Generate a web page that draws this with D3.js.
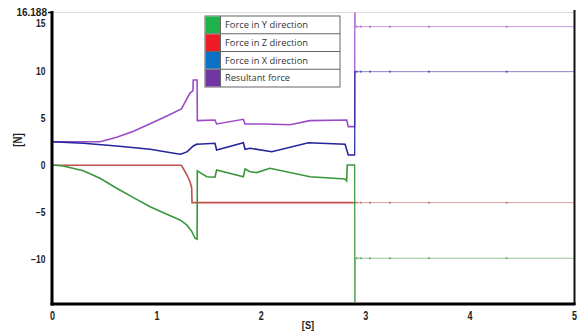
<!DOCTYPE html>
<html><head><meta charset="utf-8">
<script src="https://cdn.jsdelivr.net/npm/d3@7"></script>
<style>body{margin:0;background:#fff}svg{display:block}</style>
</head><body>
<svg id="chart" width="577" height="333"></svg>
<script>
// ---------- data ----------
const xTicks = [0, 1, 2, 3, 4, 5];
const yTicks = [-10, -5, 0, 5, 10, 15];
const yMaxLabel = 16.188;
const yMinValue = -14.7;
const seriesNames = ["Force in Y direction", "Force in Z direction", "Force in X direction", "Resultant force"];
const legendColors = ["#1db34a", "#ee1c24", "#0b72c6", "#7235a5"];
const lineColors = ["#3a963a", "#c0504d", "#25259c", "#9a4cc8"];

const timeY  = [0, 0.108, 0.3, 0.46, 0.62, 0.78, 0.94, 1.1, 1.226, 1.29, 1.34, 1.37, 1.39,
                1.392, 1.482, 1.561, 1.577, 1.833, 1.849, 1.897, 1.961, 2.088, 2.471, 2.806, 2.822, 2.828, 2.901, 2.903, 2.907, 5];
const forceY = [0.03, -0.07, -0.57, -1.38, -2.44, -3.43, -4.39, -5.19, -5.79, -6.32, -7.03, -7.73, -7.84,
                -0.6, -1.21, -1.27, -0.5, -1.21, -0.39, -0.68, -0.78, -0.32, -1.21, -1.45, -1.66, 0.03, 0.03, -14.5, -9.85, -9.85];

const timeZ  = [0, 1.24, 1.293, 1.322, 1.338, 1.341, 5];
const forceZ = [0, 0, -1.03, -1.74, -2.4, -3.96, -3.96];

const timeX  = [0, 0.3, 0.62, 0.94, 1.226, 1.258, 1.296, 1.353, 1.39,
                1.392, 1.561, 1.577, 1.833, 1.849, 1.897, 2.105, 2.456, 2.807, 2.838, 2.901, 2.904, 5];
const forceX = [2.5, 2.33, 2.05, 1.7, 1.17, 1.27, 1.44, 2.05, 2.26,
                2.23, 2.33, 1.62, 2.39, 1.7, 1.8, 1.44, 2.39, 2.23, 1.09, 1.09, 9.92, 9.92];

const timeR  = [0, 0.46, 0.62, 0.78, 0.94, 1.1, 1.24, 1.32, 1.35, 1.353, 1.39,
                1.392, 1.561, 1.577, 1.833, 1.849, 2.04, 2.28, 2.47, 2.823, 2.838, 2.901, 2.903, 2.907, 5];
const forceR = [2.5, 2.5, 2.97, 3.6, 4.4, 5.22, 5.97, 7.63, 7.9, 9.04, 9.04,
                4.73, 4.8, 4.38, 4.87, 4.38, 4.38, 4.3, 4.73, 4.8, 4.09, 4.09, 16.188, 14.69, 14.69];

const sampleTimes = [2.918, 2.957, 3.046, 3.238, 3.611, 4.355];
const tailValues = [-9.85, -3.96, 9.92, 14.69];

// ---------- drawing ----------
const svg = d3.select("#chart");
const x = d3.scaleLinear().domain([0, 5]).range([52, 574]);
const y = d3.scaleLinear().domain([yMinValue, yMaxLabel]).range([304, 12.5]);

const series = [
  {t: timeY, v: forceY},
  {t: timeZ, v: forceZ},
  {t: timeX, v: forceX},
  {t: timeR, v: forceR}
];

// top frame line
svg.append("line").attr("x1", x(0)).attr("x2", x(5)).attr("y1", y(yMaxLabel)).attr("y2", y(yMaxLabel))
  .attr("stroke", "#dcdcdc").attr("stroke-width", 1);

const defs = svg.append("defs");
const split = x(2.905);
defs.append("clipPath").attr("id", "clipL").append("rect")
  .attr("x", x(0)).attr("y", 0).attr("width", split - x(0)).attr("height", 333);
defs.append("clipPath").attr("id", "clipR").append("rect")
  .attr("x", split).attr("y", 0).attr("width", x(5) - split).attr("height", 333);

const line = d3.line().x(d => x(d[0])).y(d => y(d[1]));
const order = [3, 2, 1, 0];
order.forEach(i => {
  const pts = series[i].t.map((t, k) => [t, series[i].v[k]]);
  svg.append("path").datum(pts).attr("d", line)
    .attr("fill", "none").attr("stroke", lineColors[i]).attr("stroke-width", 1.6)
    .attr("stroke-linejoin", "miter").attr("clip-path", "url(#clipL)");
  svg.append("path").datum(pts).attr("d", line)
    .attr("fill", "none").attr("stroke", lineColors[i]).attr("stroke-width", 1)
    .attr("stroke-opacity", 0.55).attr("clip-path", "url(#clipR)");
  svg.append("g").selectAll("rect").data(sampleTimes).join("rect")
    .attr("x", d => x(d) - 1).attr("y", y(tailValues[i]) - 1)
    .attr("width", 2).attr("height", 2).attr("fill", lineColors[i]).attr("fill-opacity", 0.6);
});

// right frame
svg.append("line").attr("x1", 574.5).attr("x2", 574.5).attr("y1", 10).attr("y2", 305)
  .attr("stroke", "#111").attr("stroke-width", 2);

// left axis
const yAxis = d3.axisLeft(y).tickValues(yTicks).tickSize(0).tickPadding(8).tickFormat(d3.format("d"));
const gy = svg.append("g").attr("transform", "translate(52,0)").call(yAxis);
gy.select(".domain").remove();
gy.selectAll("text")
  .attr("font-family", "'Liberation Sans', Arial, sans-serif").attr("font-weight", "bold")
  .attr("font-size", 10).attr("fill", "#222")
  .attr("transform", "scale(0.85,1)").attr("x", -6.5 / 0.85);

// top label
svg.append("text").attr("x", 47).attr("y", y(yMaxLabel)).attr("dy", "0.35em")
  .attr("text-anchor", "end").attr("font-family", "'Liberation Sans', Arial, sans-serif")
  .attr("font-weight", "bold").attr("font-size", 10).attr("fill", "#222").text(yMaxLabel);
svg.append("line").attr("x1", 48).attr("x2", 52).attr("y1", y(yMaxLabel)).attr("y2", y(yMaxLabel))
  .attr("stroke", "#111").attr("stroke-width", 1.5);

// bottom axis
const xAxis = d3.axisBottom(x).tickValues(xTicks).tickSize(0).tickPadding(7).tickFormat(d3.format("d"));
const gx = svg.append("g").attr("transform", "translate(0,304)").call(xAxis);
gx.select(".domain").remove();
gx.selectAll("text")
  .attr("font-family", "'Liberation Sans', Arial, sans-serif").attr("font-weight", "bold")
  .attr("font-size", 12.5).attr("fill", "#222")
  .attr("transform", "scale(0.72,1)");

// axis lines
svg.append("line").attr("x1", 52).attr("x2", 52).attr("y1", 11).attr("y2", 305.5)
  .attr("stroke", "#000").attr("stroke-width", 3);
svg.append("line").attr("x1", 50.5).attr("x2", 575.5).attr("y1", 304).attr("y2", 304)
  .attr("stroke", "#000").attr("stroke-width", 3);

// axis titles
svg.append("text").attr("transform", "translate(308,324.5) scale(0.8,1)")
  .attr("text-anchor", "middle").attr("font-family", "'Liberation Sans', Arial, sans-serif")
  .attr("font-weight", "bold").attr("font-size", 11.5).attr("fill", "#222").attr("dy", "0.35em").text("[S]");
svg.append("text").attr("transform", "translate(18,140) rotate(-90) scale(0.8,1)")
  .attr("text-anchor", "middle").attr("font-family", "'Liberation Sans', Arial, sans-serif")
  .attr("font-weight", "bold").attr("font-size", 12).attr("fill", "#222").attr("dy", "0.35em").text("[N]");

// legend
const lg = svg.append("g");
const lx = 205, ly = 16, lw = 135, rowH = 17.75;
lg.append("rect").attr("x", lx).attr("y", ly).attr("width", lw).attr("height", rowH * 4)
  .attr("fill", "#fff").attr("stroke", "#666").attr("stroke-width", 1);
const legendWidths = [83, 83, 83, 65];
seriesNames.forEach((name, i) => {
  lg.append("rect").attr("x", lx + 0.5).attr("y", ly + i * rowH + 0.5)
    .attr("width", 15).attr("height", rowH - 1).attr("fill", legendColors[i]);
  if (i > 0) lg.append("line").attr("x1", lx).attr("x2", lx + lw)
    .attr("y1", ly + i * rowH).attr("y2", ly + i * rowH).attr("stroke", "#666").attr("stroke-width", 1);
  lg.append("text").attr("x", lx + 20).attr("y", ly + i * rowH + rowH / 2).attr("dy", "0.35em")
    .attr("font-family", "'Open Sans', 'Noto Sans', sans-serif").attr("font-size", 9.5).attr("fill", "#333")
    .attr("textLength", legendWidths[i]).attr("lengthAdjust", "spacingAndGlyphs").text(name);
});
lg.append("line").attr("x1", lx + 15.5).attr("x2", lx + 15.5).attr("y1", ly).attr("y2", ly + rowH * 4)
  .attr("stroke", "#666").attr("stroke-width", 1);
</script>
</body></html>
